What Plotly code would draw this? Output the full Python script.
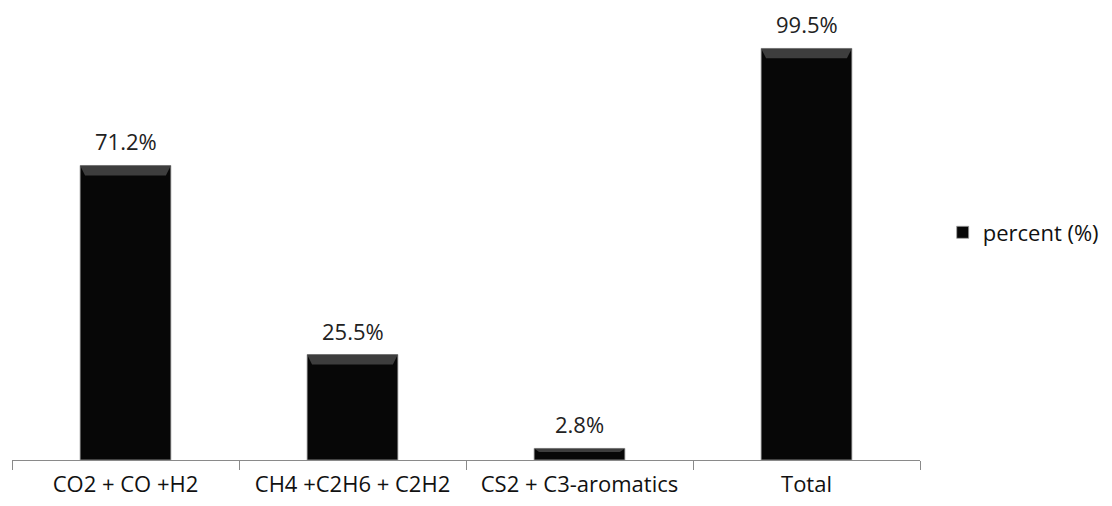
import plotly.graph_objects as go

categories = ["CO2 + CO +H2", "CH4 +C2H6 + C2H2", "CS2 + C3-aromatics", "Total"]
percent = [71.2, 25.5, 2.8, 99.5]
labels = [f"{v}%" for v in percent]

FONT = "Open Sans"
FS = 22

fig = go.Figure()
fig.add_trace(go.Bar(
    x=categories,
    y=percent,
    name="percent (%)",
    marker=dict(color="#070707", line=dict(color="#a0a0a0", width=0.8)),
    width=0.4,
    showlegend=True,
))

# value labels above the bars
for cat, v, lab in zip(categories, percent, labels):
    fig.add_annotation(x=cat, y=v, text=lab, showarrow=False,
                       yanchor="bottom", yshift=7,
                       font=dict(family=FONT, size=FS, color="#222"))

# bevel highlight along the top of each bar
for i, v in enumerate(percent):
    top = v
    band = min(2.4, v * 0.3)
    fig.add_shape(
        type="path",
        xref="x", yref="y",
        path=(f"M {i-0.2},{top} L {i+0.2},{top} "
              f"L {i+0.2-0.022},{top-band} L {i-0.2+0.022},{top-band} Z"),
        fillcolor="rgba(70,70,70,0.85)",
        line=dict(width=0),
        layer="above",
    )

fig.update_layout(
    width=1112, height=506,
    margin=dict(l=12, r=192, t=5, b=46),
    paper_bgcolor="white", plot_bgcolor="white",
    font=dict(family=FONT, size=FS, color="#111"),
    bargap=0.6,
    showlegend=True,
    legend=dict(x=1.025, y=0.5, xanchor="left", yanchor="middle",
                font=dict(family=FONT, size=FS, color="#111"),
                itemwidth=30),
    xaxis=dict(
        showline=True, linecolor="#8a8a8a", linewidth=1.2,
        ticks="outside", tickson="boundaries", ticklen=9, tickcolor="#8a8a8a",
        tickfont=dict(family=FONT, size=FS, color="#111"),
        ticklabelstandoff=4,
        showgrid=False,
    ),
    yaxis=dict(range=[0, 110], visible=False, showgrid=False),
)

fig.write_html("out.html")
